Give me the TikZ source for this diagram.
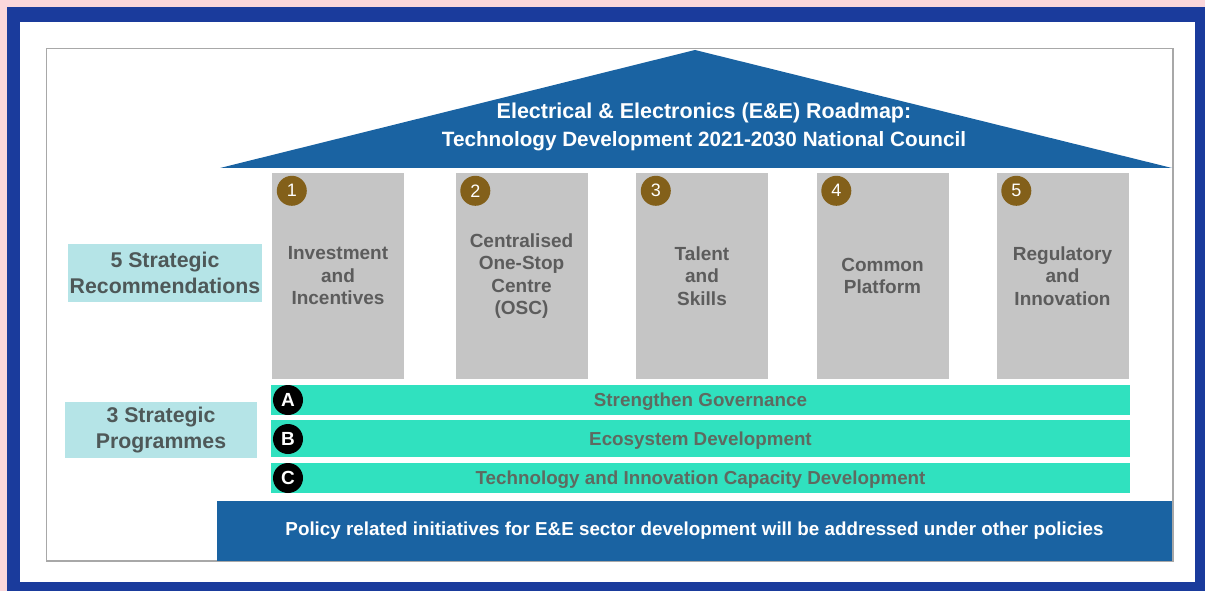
\documentclass[tikz,border=0pt]{standalone}
\usepackage{fontspec}
\setmainfont{Liberation Sans}
\definecolor{pinkbg}{HTML}{FAD7DB}
\definecolor{frameblue}{HTML}{1A3B9C}
\definecolor{roofblue}{HTML}{1A63A2}
\definecolor{pillargray}{HTML}{C5C5C5}
\definecolor{pilltext}{HTML}{5C5C5C}
\definecolor{numbrown}{HTML}{83601A}
\definecolor{labelcyan}{HTML}{B5E4E7}
\definecolor{labeltext}{HTML}{4E5858}
\definecolor{bandteal}{HTML}{30E1BF}
\definecolor{bandtext}{HTML}{5E6A60}
\definecolor{boxgray}{HTML}{A8A8A8}
\begin{document}
\begin{tikzpicture}[x=1pt,y=-1pt,
  pillar/.style={fill=pillargray, minimum width=132pt, minimum height=205pt, inner sep=0pt,
    font=\fontsize{19}{22.5}\selectfont\bfseries, text=pilltext, align=center},
  numdot/.style={circle, fill=numbrown, minimum size=30pt, inner sep=0pt,
    font=\fontsize{18}{18}\selectfont, text=white},
  sidelabel/.style={fill=labelcyan, inner sep=0pt, align=center, text=labeltext,
    font=\fontsize{21.3}{25.5}\selectfont\bfseries},
  band/.style={fill=bandteal, minimum width=859pt, inner sep=0pt, text=bandtext, text depth=0pt,
    font=\fontsize{18.8}{20}\selectfont\bfseries},
  letterdot/.style={circle, fill=black, minimum size=30pt, inner sep=0pt,
    font=\fontsize{19}{19}\selectfont\bfseries, text=white},
  basebox/.style={fill=roofblue, minimum width=955pt, minimum height=60pt, inner sep=0pt,
    text=white, font=\fontsize{18.8}{20}\selectfont\bfseries},
  rooftext/.style={text=white, align=center, font=\fontsize{21.5}{28}\selectfont\bfseries}
]
\useasboundingbox (0,0) rectangle (1205,591);
\fill[pinkbg] (0,0) rectangle (1205,591);
\fill[frameblue] (7,7) rectangle (1205,591);
\fill[white] (20,22) rectangle (1195,582);
\draw[boxgray, line width=1.5pt] (46.5,48.5) rectangle (1173,561);

% roof
\coordinate (roofL) at (220,168);
\coordinate (roofT) at (695,50);
\coordinate (roofR) at (1172,168);
\fill[roofblue] (roofL) -- (roofT) -- (roofR) -- cycle;
\node[rooftext] (roof) at (704,127) {Electrical \& Electronics (E\&E) Roadmap:\\{\fontsize{20.7}{28}\selectfont Technology Development 2021-2030 National Council}};

% pillars
\node[pillar] (p1) at (338,276) {Investment\\and\\Incentives};
\node[pillar] (p2) at (521.5,276) {Centralised\\One-Stop\\Centre\\(OSC)};
\node[pillar] (p3) at (702,276) {Talent\\and\\Skills};
\node[pillar] (p4) at (882.5,276) {Common\\Platform};
\node[pillar] (p5) at (1062.5,276) {Regulatory\\and\\Innovation};
\foreach \i in {1,...,5}{
  \node[numdot] (n\i) at ([xshift=20pt,yshift=-17.5pt]p\i.north west) {\i};
}

% side labels
\node[sidelabel, minimum width=194pt, minimum height=58pt] (lab1) at (165,273) {5 Strategic\\Recommendations};
\node[sidelabel, minimum width=192pt, minimum height=56pt] (lab2) at (161,430) {3 Strategic\\Programmes};

% bands
\node[band, minimum height=30pt] (bA) at (700.5,400) {Strengthen Governance};
\node[band, minimum height=37pt] (bB) at (700.5,438.5) {Ecosystem Development};
\node[band, minimum height=30pt] (bC) at (700.5,478) {Technology and Innovation Capacity Development};
\node[letterdot] (lA) at (288,400) {A};
\node[letterdot] (lB) at (288,439) {B};
\node[letterdot] (lC) at (288,478) {C};

% base
\node[basebox] (base) at (694.5,531) {Policy related initiatives for E\&E sector development will be addressed under other policies};
\end{tikzpicture}
\end{document}
